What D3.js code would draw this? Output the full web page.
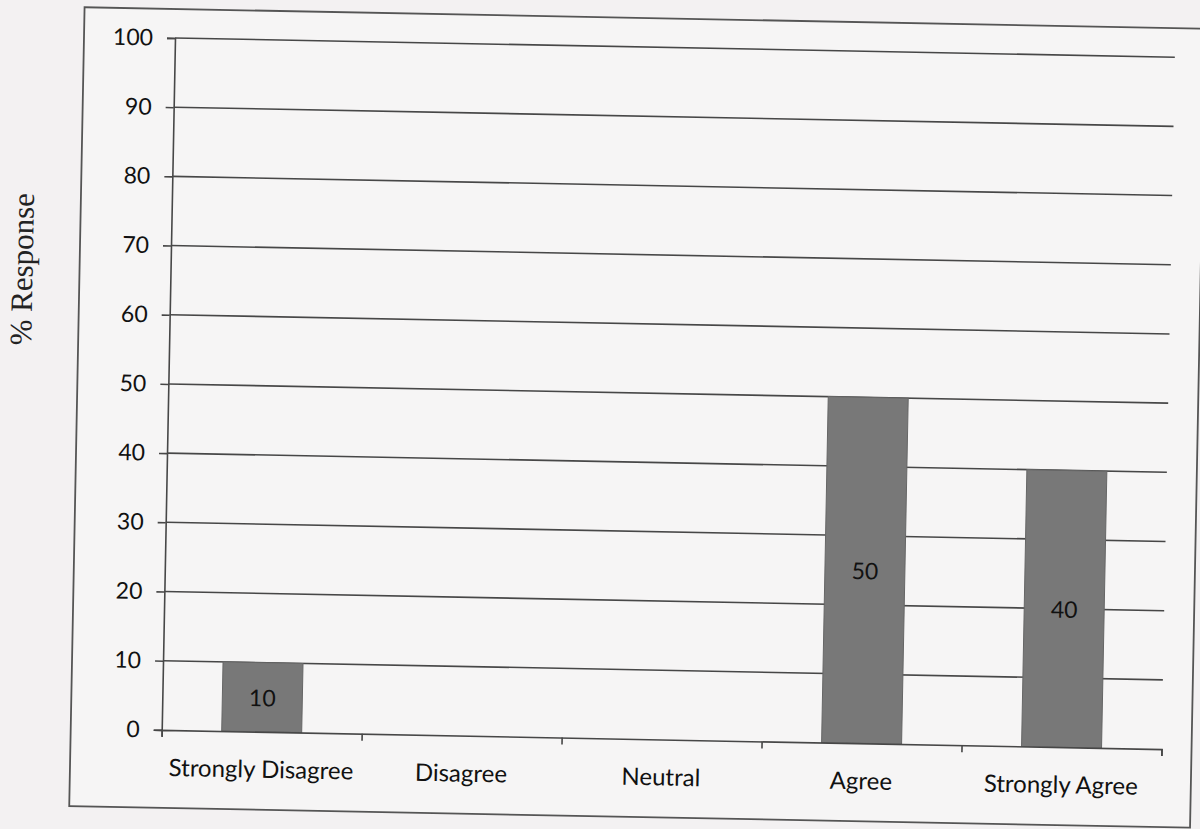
<!DOCTYPE html>
<html>
<head>
<meta charset="utf-8">
<script src="https://cdn.jsdelivr.net/npm/d3@7"></script>
<style>
  html, body { margin: 0; padding: 0; background: #f3f1f2; }
  svg { display: block; }
</style>
</head>
<body>
<div id="chart"></div>
<script>
const categories = ["Strongly Disagree", "Disagree", "Neutral", "Agree", "Strongly Agree"];
const values = [10, 0, 0, 50, 40];
const yTicks = [0, 10, 20, 30, 40, 50, 60, 70, 80, 90, 100];
const yTitle = "% Response";

const W = 1200, H = 829;
const plot = { left: 175, top: 38, width: 1000, height: 692 };
const tilt = 1.1; // scan skew in degrees
const ink = "#474747";
const font = "Lato, 'Open Sans', sans-serif";

const svg = d3.select("#chart").append("svg")
  .attr("width", W).attr("height", H);

svg.append("rect").attr("width", W).attr("height", H).attr("fill", "#f3f1f2");

const g = svg.append("g")
  .attr("transform", `rotate(${tilt},${plot.left},${plot.top})`);

// outer chart border
g.append("rect")
  .attr("x", 84).attr("y", 9)
  .attr("width", 1121).attr("height", 799)
  .attr("fill", "#f6f5f5")
  .attr("stroke", "#555").attr("stroke-width", 1.8);

const x = d3.scaleBand()
  .domain(categories)
  .range([plot.left, plot.left + plot.width])
  .paddingInner(0.6).paddingOuter(0.3);

const y = d3.scaleLinear()
  .domain([0, 100])
  .range([plot.top + plot.height, plot.top]);

// gridlines
g.append("g").selectAll("line")
  .data(yTicks.filter(d => d > 0))
  .join("line")
  .attr("x1", plot.left).attr("x2", plot.left + plot.width)
  .attr("y1", d => y(d)).attr("y2", d => y(d))
  .attr("stroke", ink).attr("stroke-width", 1.6);

const barData = categories.map((c, i) => ({ c, v: values[i] })).filter(d => d.v > 0);

// bars
g.append("g").selectAll("rect")
  .data(barData)
  .join("rect")
  .attr("x", d => x(d.c))
  .attr("y", d => y(d.v))
  .attr("width", x.bandwidth())
  .attr("height", d => y(0) - y(d.v))
  .attr("fill", "#787878")
  .attr("stroke", "#666").attr("stroke-width", 1);

// bar value labels
g.append("g").selectAll("text")
  .data(barData)
  .join("text")
  .attr("x", d => x(d.c) + x.bandwidth() / 2)
  .attr("y", d => (y(d.v) + y(0)) / 2)
  .attr("text-anchor", "middle")
  .attr("dominant-baseline", "central")
  .attr("font-family", font)
  .attr("font-size", 23)
  .attr("fill", "#111")
  .text(d => d.v);

// y axis
const yAxis = d3.axisLeft(y).tickValues(yTicks).tickSize(8).tickPadding(14);
const ya = g.append("g")
  .attr("transform", `translate(${plot.left},0)`)
  .call(yAxis);
ya.select(".domain").attr("stroke", ink).attr("stroke-width", 1.6);
ya.selectAll(".tick line").attr("stroke", ink).attr("stroke-width", 1.6);
ya.selectAll(".tick text")
  .attr("font-family", font)
  .attr("font-size", 23)
  .attr("fill", "#111");

// x axis
const xTickScale = d3.scaleLinear().domain([0, categories.length]).range([plot.left, plot.left + plot.width]);
const xAxisLine = d3.axisBottom(xTickScale).ticks(categories.length).tickFormat("").tickSize(7).tickSizeOuter(7);
const xa = g.append("g")
  .attr("transform", `translate(0,${plot.top + plot.height})`)
  .call(xAxisLine);
xa.select(".domain").attr("stroke", ink).attr("stroke-width", 1.6);
xa.selectAll(".tick line").attr("stroke", ink).attr("stroke-width", 1.6);

const xl = g.append("g")
  .attr("transform", `translate(0,${plot.top + plot.height})`)
  .call(d3.axisBottom(x).tickSize(0).tickPadding(29));
xl.select(".domain").remove();
xl.selectAll(".tick text")
  .attr("font-family", font)
  .attr("font-size", 24)
  .attr("fill", "#111");

// y title
g.append("text")
  .attr("transform", `translate(37,${(plot.top + plot.top + plot.height) / 2 - 112}) rotate(-90)`)
  .attr("text-anchor", "middle")
  .attr("font-family", "'Liberation Serif', 'Times New Roman', serif")
  .attr("font-size", 31)
  .attr("fill", "#222")
  .text(yTitle);
</script>
</body>
</html>
